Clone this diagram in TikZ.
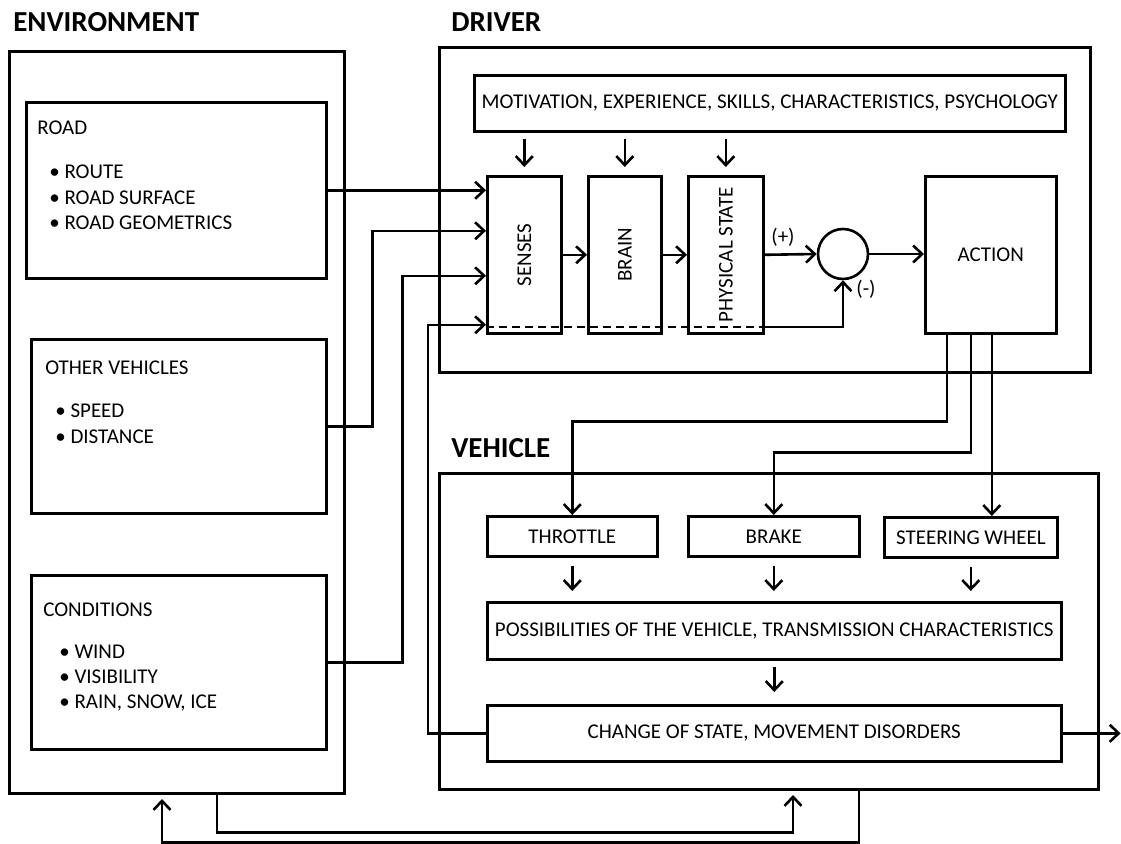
\documentclass[tikz,border=0pt]{standalone}
\usepackage{fontspec}
\setmainfont{Carlito}
\usetikzlibrary{arrows.meta}

\begin{document}
\begin{tikzpicture}[x=1pt, y=-1pt, line width=2.6pt,
	box/.style={draw, anchor=north west, inner sep=0pt, font=\fontsize{21}{24}\selectfont},
	txt/.style={inner sep=0pt, anchor=west, font=\fontsize{21}{24}\selectfont},
	title/.style={inner sep=0pt, anchor=west, font=\fontsize{29}{32}\selectfont\bfseries},
	arr/.style={-{Straight Barb[length=9pt, width=17pt, line width=2.6pt]}}]

	\useasboundingbox (0,0) rectangle (1121,843);

	% Environment

	\node[title] (envtitle) at (12,22) {ENVIRONMENT};
	\node[box, minimum width=335pt, minimum height=742pt] (env) at (8,50) {};

	\node[box, minimum width=300pt, minimum height=176pt] (road) at (25,101) {};
	\node[txt] (roadtxt) at (36,128) {ROAD};
	\foreach \y/\s in {172/ROUTE, 198/ROAD SURFACE, 223/ROAD GEOMETRICS}
		\node[txt] at (48,\y) {\textbullet\ \s};

	\node[box, minimum width=295pt, minimum height=174pt] (other) at (30,338) {};
	\node[txt] (othertxt) at (44,368) {OTHER VEHICLES};
	\foreach \y/\s in {411/SPEED, 437/DISTANCE}
		\node[txt] at (54,\y) {\textbullet\ \s};

	\node[box, minimum width=295pt, minimum height=174pt] (cond) at (30,574) {};
	\node[txt] (condtxt) at (42,610) {CONDITIONS};
	\foreach \y/\s in {652/WIND, 677/VISIBILITY, 703/{RAIN, SNOW, ICE}}
		\node[txt] at (58,\y) {\textbullet\ \s};

	% Driver

	\node[title] (drvtitle) at (450,22) {DRIVER};
	\node[box, minimum width=651pt, minimum height=325pt] (drv) at (438,46) {};
	\node[box, minimum width=591pt, minimum height=56pt] (motiv) at (473,74)
		{MOTIVATION,\ EXPERIENCE, SKILLS, CHARACTERISTICS, PSYCHOLOGY};

	\node[box, minimum width=74pt, minimum height=157pt] (senses) at (486,175) {};
	\node[box, minimum width=73pt, minimum height=157pt] (brain) at (587,175) {};
	\node[box, minimum width=75pt, minimum height=157pt] (phys) at (687,175) {};
	\foreach \b/\s in {senses/SENSES, brain/BRAIN, phys/PHYSICAL STATE}
		\node[txt, anchor=center, rotate=90] at (\b.center) {\s};

	\node[draw, circle, minimum size=50pt, inner sep=0pt] (sum) at (843,254) {};
	\node[box, minimum width=131pt, minimum height=157pt] (action) at (924,175) {};
	\node[txt, anchor=center] at (action.center) {ACTION};
	\node[txt, anchor=center] (plus) at (783,237) {(+)};
	\node[txt, anchor=center] (minus) at (866,289) {(-)};

	\foreach \b in {senses, brain, phys}
		\draw[arr] ([yshift=-6pt]motiv.south -| \b.north) -- ([yshift=8pt]\b.north);

	\draw[arr] (senses) -- (brain);
	\draw[arr] (brain) -- (phys);
	\draw[arr] (phys.east) -- (sum.west);
	\draw[arr] (sum.east) -- (action.west |- sum.east);

	% Environment into senses

	\draw[arr] (road.east) -- (senses.west |- road.east);
	\draw[arr] (other.east) -- ++(45,0) |- ([yshift=24pt]senses.west);
	\draw[arr] (cond.east) -- ++(75,0) |- ([yshift=-21pt]senses.west);

	% Vehicle

	\node[title] (vehtitle) at (450,448) {VEHICLE};
	\node[box, minimum width=659pt, minimum height=316pt] (veh) at (438,472) {};
	\node[box, minimum width=170pt, minimum height=40pt] (throttle) at (486,515) {THROTTLE};
	\node[box, minimum width=171pt, minimum height=40pt] (brake) at (687,515) {BRAKE};
	\node[box, minimum width=173pt, minimum height=40pt] (steer) at (883,516) {STEERING WHEEL};
	\node[box, minimum width=574pt, minimum height=57pt] (poss) at (486,601)
		{POSSIBILITIES OF THE VEHICLE, TRANSMISSION CHARACTERISTICS};
	\node[box, minimum width=574pt, minimum height=56pt] (change) at (486,704)
		{CHANGE OF STATE, MOVEMENT DISORDERS};

	\foreach \b in {throttle, brake, steer}
		\draw[arr] ([yshift=-8pt]\b.south) -- ([yshift=10pt]poss.north -| \b.south);
	\draw[arr] ([yshift=-6pt]poss.south) -- ([yshift=12pt]change.north);
	\draw[arr] (change.east) -- ++(58,0);

	% Action to controls

	\draw[arr] ([xshift=-44pt]action.south) -- ++(0,87) -| (throttle.north);
	\draw[arr] ([xshift=-20pt]action.south) -- ++(0,118) -| (brake.north);
	\draw[arr] ([xshift=1pt]action.south) -- ([xshift=1pt]action.south |- steer.north);

	% Feedback

	\draw[arr] (change.west) -- ++(-58,0) |- ([yshift=-70pt]senses.west);
	\draw[dash pattern=on 8pt off 5pt] ([yshift=-72pt]senses.west) -- ([yshift=-72pt]phys.east);
	\draw[arr] ([yshift=-72pt]phys.east) -| (sum.south);

	\coordinate (vehin) at (793,795);
	\coordinate (envin) at (162,799);
	\draw[arr] ([xshift=40pt]env.south) -- ++(0,38) -| (vehin);
	\draw[arr] ([xshift=90pt]veh.south) -- ++(0,52) -| (envin);

\end{tikzpicture}
\end{document}
